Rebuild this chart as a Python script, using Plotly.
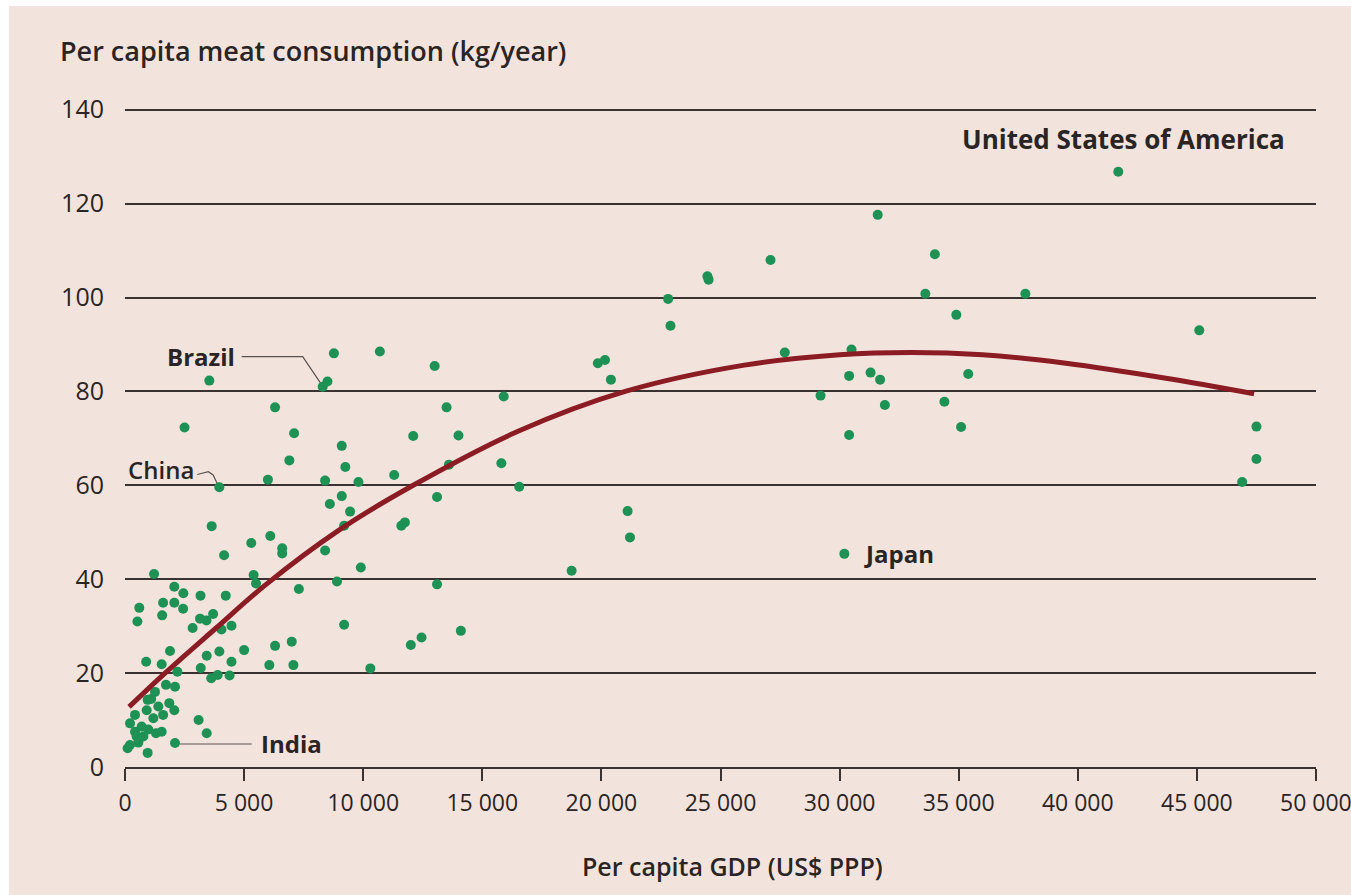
import plotly.graph_objects as go

# ---------------- data ----------------
gdp = [41700, 31600, 34000, 27100, 24450, 24500, 22800, 33600, 37800, 34900,
       45100, 22900, 19850, 20150, 20400, 27700, 30500, 30400, 31300, 31700,
       29200, 31900, 34400, 35400, 35100, 30400, 47500, 47500, 46900, 30200,
       21100, 21200, 18750, 16550, 15800, 15900, 14000, 13600, 14100, 13100,
       13500, 13000, 12100, 10700, 8770, 8500, 8300, 6300, 7100, 9100,
       6900, 9250, 6000, 8400, 9800, 11300, 9100, 8600, 9450, 13100,
       11600, 11750, 9200, 5300, 6100, 6600, 6600, 8400, 9900, 5400,
       5500, 8900, 7300, 9200, 5000, 6300, 7000, 6060, 7070, 10300,
       12000, 12450, 3540, 2500, 3960, 3640, 4160, 1220, 2070, 2450,
       3170, 4230, 1600, 2070, 2440, 600, 1560, 520, 3150, 3420,
       3700, 2840, 4050, 4470, 1890, 890, 1540, 3180, 3960, 3430,
       4470, 2200, 3620, 3890, 4390, 1720, 2100, 1260, 950, 1860,
       2070, 1400, 420, 1190, 1600, 210, 700, 980, 1540, 1300,
       490, 210, 560, 110, 950, 2100, 3090, 3430, 910, 420,
       770, 1100]
meat = [126.8, 117.6, 109.2, 108.0, 104.5, 103.8, 99.7, 100.8, 100.8, 96.3,
        93.0, 94.0, 86.0, 86.7, 82.5, 88.3, 88.9, 83.3, 84.0, 82.5,
        79.1, 77.1, 77.8, 83.7, 72.4, 70.7, 72.5, 65.6, 60.7, 45.4,
        54.5, 48.9, 41.8, 59.7, 64.7, 78.9, 70.6, 64.4, 29.0, 38.9,
        76.6, 85.4, 70.5, 88.5, 88.1, 82.1, 81.0, 76.6, 71.1, 68.4,
        65.3, 63.9, 61.2, 61.0, 60.7, 62.2, 57.7, 56.0, 54.4, 57.5,
        51.4, 52.1, 51.4, 47.7, 49.2, 46.6, 45.5, 46.1, 42.5, 40.9,
        39.1, 39.5, 37.9, 30.3, 24.9, 25.8, 26.7, 21.7, 21.7, 21.0,
        26.0, 27.6, 82.3, 72.3, 59.6, 51.3, 45.1, 41.1, 38.4, 37.0,
        36.5, 36.5, 35.0, 35.0, 33.7, 33.9, 32.3, 31.0, 31.6, 31.2,
        32.6, 29.6, 29.3, 30.1, 24.7, 22.4, 21.9, 21.1, 24.6, 23.7,
        22.4, 20.3, 18.9, 19.6, 19.5, 17.5, 17.1, 16.0, 14.3, 13.6,
        12.1, 12.9, 11.1, 10.4, 11.1, 9.3, 8.6, 8.0, 7.5, 7.2,
        6.5, 4.7, 5.2, 4.0, 3.0, 5.1, 10.0, 7.2, 12.1, 7.5,
        6.5, 14.5]

trend_gdp = [170, 1680, 3800, 5900, 9000, 12100, 16500, 21000, 26000, 30000,
             33000, 36000, 39500, 43700, 47400]
trend_meat = [12.8, 20.0, 29.5, 38.8, 50.5, 60.0, 71.5, 80.0, 85.6, 87.8,
              88.3, 87.8, 86.0, 82.8, 79.5]

y_ticks = [0, 20, 40, 60, 80, 100, 120, 140]
x_ticks = [0, 5000, 10000, 15000, 20000, 25000, 30000, 35000, 40000, 45000, 50000]
x_tick_labels = ["0", "5 000", "10 000", "15 000", "20 000", "25 000", "30 000",
                 "35 000", "40 000", "45 000", "50 000"]

labels = ["Brazil", "China", "India", "Japan", "United States of America"]
label_x = [4700, 3000, 5640, 30930, 35050]
label_y = [87.4, 63.3, 5.05, 45.4, 133.7]
label_anchor = ["right", "right", "left", "left", "left"]
label_size = [24, 24, 24, 24, 26]

brazil_leader_x = [4900, 7460, 8260]
brazil_leader_y = [87.4, 87.4, 81.4]
china_leader_x = [3035, 3500, 3700, 3870]
china_leader_y = [62.3, 62.9, 62.2, 60.4]
india_leader_x = [2310, 5320]
india_leader_y = [4.9, 4.9]

# ---------------- style ----------------
BG = "#F2E4DD"
INK = "#2a2424"
GRID = "#3a3230"
DOT = "#1e9155"
CURVE = "#8c1c24"
FONT = "Open Sans"
TICK_SIZE = 23

L, R, T, B = 125, 35, 105, 128
W, H = 1351, 895
PW, PH = W - L - R, H - T - B


def px_x(p):
    return (p - L) / PW


def px_y(p):
    return (H - B - p) / PH


fig = go.Figure()

for lx, ly in [(brazil_leader_x, brazil_leader_y),
               (china_leader_x, china_leader_y),
               (india_leader_x, india_leader_y)]:
    fig.add_trace(go.Scatter(x=lx, y=ly, mode="lines",
                             line=dict(color="#5a5250", width=1.2),
                             hoverinfo="skip", showlegend=False,
                             cliponaxis=False))

fig.add_trace(go.Scatter(x=gdp, y=meat, mode="markers",
                         marker=dict(color=DOT, size=10, line=dict(width=0)),
                         showlegend=False, cliponaxis=False))

fig.add_trace(go.Scatter(x=trend_gdp, y=trend_meat, mode="lines",
                         line=dict(color=CURVE, width=5, shape="spline", smoothing=1.0),
                         showlegend=False, cliponaxis=False))

for t, x, y, a, s in zip(labels, label_x, label_y, label_anchor, label_size):
    weight = 600 if t == "China" else 700
    fig.add_annotation(x=x, y=y, text=t, showarrow=False, xanchor=a, yanchor="middle",
                       font=dict(family=FONT, size=s, color=INK, weight=weight))

# last x tick label (runs off the right edge in the reference, plotly would drop it)
shown_tick_text = x_tick_labels[:-1] + [""]
fig.add_annotation(x=x_ticks[-1], xref="x", yref="paper", y=px_y(802),
                   text=x_tick_labels[-1], showarrow=False,
                   xanchor="center", yanchor="middle",
                   font=dict(family=FONT, size=TICK_SIZE, color=INK))

# axis titles
fig.add_annotation(xref="paper", yref="paper", x=px_x(58), y=px_y(50),
                   text="Per capita meat consumption (kg/year)", showarrow=False,
                   xanchor="left", yanchor="middle",
                   font=dict(family=FONT, size=27, color=INK, weight=600))
fig.add_annotation(xref="paper", yref="paper", x=px_x(732), y=px_y(866),
                   text="Per capita GDP (US$ PPP)", showarrow=False,
                   xanchor="center", yanchor="middle",
                   font=dict(family=FONT, size=25, color=INK, weight=600))

# beige panel with thin white border on left/top
fig.add_shape(type="rect", xref="paper", yref="paper",
              x0=px_x(9), x1=px_x(W + 20), y0=px_y(H + 20), y1=px_y(6),
              fillcolor=BG, line=dict(width=0), layer="below")

fig.update_layout(
    width=W, height=H,
    margin=dict(l=L, r=R, t=T, b=B, autoexpand=False),
    paper_bgcolor="white",
    plot_bgcolor=BG,
    template="none",
    font=dict(family=FONT, color=INK),
    showlegend=False,
    xaxis=dict(range=[0, 50000], tickvals=x_ticks, ticktext=shown_tick_text,
               showgrid=False, zeroline=False, showline=True, linecolor=GRID,
               linewidth=1.5, ticks="outside", ticklen=12, tickwidth=1.5,
               tickcolor=GRID, tickfont=dict(family=FONT, size=TICK_SIZE, color=INK),
               ticklabelstandoff=3, automargin=False),
    yaxis=dict(range=[0, 141], tickvals=y_ticks, showgrid=True, gridcolor=GRID,
               gridwidth=1.5, zeroline=False, showline=False, ticks="",
               tickfont=dict(family=FONT, size=25, color=INK),
               ticklabelstandoff=20, automargin=False),
)

fig.write_html("out.html", config={"displayModeBar": False},
               post_script="document.body.style.margin='0';")
